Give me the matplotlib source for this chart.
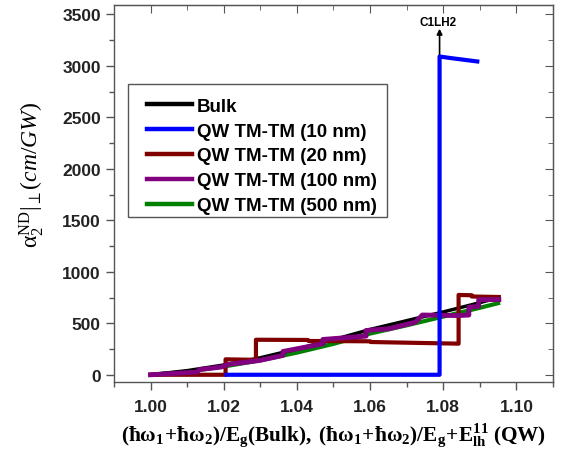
import numpy as np
import matplotlib
matplotlib.use("Agg")
from matplotlib import pyplot as plt
from matplotlib.patches import Rectangle

plt.rcParams['font.family'] = ['Liberation Sans', 'DejaVu Sans']
plt.rcParams['mathtext.fontset'] = 'custom'
plt.rcParams['mathtext.rm'] = 'Liberation Serif'
plt.rcParams['mathtext.it'] = 'Liberation Serif:italic'
plt.rcParams['mathtext.bf'] = 'Liberation Serif:bold'

# bulk and 500 nm curves (smooth)
bulk_x = [1.00, 1.01, 1.02, 1.03, 1.04, 1.05, 1.06, 1.07, 1.08, 1.09, 1.095]
bulk_y = [0, 40, 95, 165, 250, 340, 440, 525, 610, 700, 748]
qw500_x = [1.00, 1.01, 1.02, 1.03, 1.04, 1.05, 1.06, 1.07, 1.08, 1.09, 1.095]
qw500_y = [0, 30, 80, 140, 215, 300, 400, 480, 565, 650, 695]

# 10 nm well
qw10_x = [1.0208, 1.0790, 1.0790, 1.0820, 1.0893]
qw10_y = [0, 0, 3090, 3075, 3042]

# 20 nm well (staircase)
qw20_x = [1.000, 1.0205, 1.0205, 1.0288, 1.0288, 1.0430, 1.0432, 1.0600,
          1.0602, 1.0842, 1.0842, 1.0878, 1.0878, 1.0952]
qw20_y = [0, 0, 150, 145, 340, 338, 328, 325, 318, 302, 775, 772, 760, 755]

# 100 nm well (small steps)
qw100_x = [1.000, 1.0127, 1.0134, 1.0193, 1.0211, 1.0298, 1.0362, 1.0362,
           1.0471, 1.0471, 1.0589, 1.0589, 1.0652, 1.0724, 1.0743, 1.0843,
           1.0870, 1.0870, 1.0897, 1.0897, 1.0952]
qw100_y = [0, 26, 51, 75, 100, 139, 188, 226, 301, 343, 375, 430, 447, 511,
           580, 575, 580, 655, 665, 730, 730]

labels = ["Bulk", "QW TM-TM (10 nm)", "QW TM-TM (20 nm)",
          "QW TM-TM (100 nm)", "QW TM-TM (500 nm)"]

fig = plt.figure(figsize=(5.61, 4.52), dpi=100)
ax = fig.add_axes([0.2032, 0.1527, 0.7825, 0.834])

ax.plot(qw500_x, qw500_y, color='#008000', lw=3.0, zorder=2)
ax.plot(bulk_x, bulk_y, color='black', lw=2.5, zorder=3)
ax.plot(qw20_x, qw20_y, color='#800000', lw=3.0, zorder=4)
ax.plot(qw100_x, qw100_y, color='#800080', lw=3.5, zorder=5)
ax.plot(qw10_x, qw10_y, color='#0000ff', lw=3.0, zorder=6)

# legend: entries without frame, box drawn separately
h = [plt.Line2D([], [], color=c, lw=3.2) for c in
     ['black', '#0000ff', '#800000', '#800080', '#008000']]
leg = ax.legend(h, labels, loc='upper left', bbox_to_anchor=(0.0745, 0.754),
                borderaxespad=0, borderpad=0, frameon=False,
                handlelength=2.4, handletextpad=0.27, labelspacing=0.41,
                prop={'weight': 'bold', 'size': 13.5})
leg.set_zorder(11)
ax.add_patch(Rectangle((0.0326, 0.4377), 0.5886, 0.3528,
                       transform=ax.transAxes, facecolor='white',
                       edgecolor='#555555', lw=1.0, zorder=10))

ax.annotate('', xy=(1.0790, 3360), xytext=(1.0790, 3090),
            arrowprops=dict(arrowstyle='-|>', color='black', lw=1.2,
                            mutation_scale=8, shrinkA=0, shrinkB=0))
ax.text(1.0785, 3425, 'C1LH2', fontsize=8.5, fontweight='bold',
        ha='center', va='center')

ax.set_xlim(0.99, 1.1096)
ax.set_ylim(-70, 3590)
ax.set_xticks([1.00, 1.02, 1.04, 1.06, 1.08, 1.10])
ax.set_xticks(np.arange(0.99, 1.111, 0.01), minor=True)
ax.set_yticks(np.arange(0, 3501, 500))
ax.set_yticks(np.arange(0, 3501, 250), minor=True)
ax.set_xticklabels(['1.00', '1.02', '1.04', '1.06', '1.08', '1.10'])
for t in ax.get_xticklabels() + ax.get_yticklabels():
    t.set_fontweight('bold')
    t.set_fontsize(12.5)
    t.set_color('#222222')

for s in ax.spines.values():
    s.set_color('#555555')
    s.set_linewidth(1.0)
ax.tick_params(which='major', direction='out', length=6, width=1,
               color='#555555')
ax.tick_params(axis='x', which='major', pad=6)
ax.tick_params(which='minor', direction='out', length=3.5, width=1,
               color='#555555')

# mirrored ticks pointing in on top and right
top = ax.secondary_xaxis('top')
top.set_xticks([1.00, 1.02, 1.04, 1.06, 1.08, 1.10])
top.set_xticks(np.arange(0.99, 1.111, 0.01), minor=True)
top.tick_params(which='major', direction='in', length=6, color='#555555',
                labeltop=False)
top.tick_params(which='minor', direction='in', length=3.5, color='#555555')
top.spines['top'].set_color('#555555')
right = ax.secondary_yaxis('right')
right.set_yticks(np.arange(0, 3501, 500))
right.set_yticks(np.arange(0, 3501, 250), minor=True)
right.tick_params(which='major', direction='in', length=6, color='#555555',
                  labelright=False)
right.tick_params(which='minor', direction='in', length=3.5, color='#555555')
right.spines['right'].set_color('#555555')

ax.set_xlabel(r'$\mathbf{(\hbar\omega_1\!+\!\hbar\omega_2)/E_g(Bulk),\ '
              r'(\hbar\omega_1\!+\!\hbar\omega_2)/E_g\!+\!E_{lh}^{11}\ (QW)}$',
              fontsize=15.3, labelpad=5)
ax.set_ylabel(r'$\mathrm{\alpha_2^{ND}|_{\perp}}(cm/GW)$', fontsize=17)
ax.yaxis.set_label_coords(-0.155, 0.552)

fig.savefig('out.png', dpi=100)
